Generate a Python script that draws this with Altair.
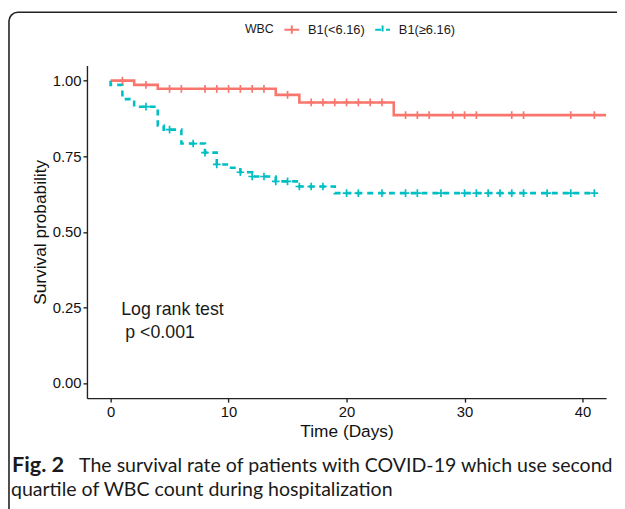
import altair as alt
import pandas as pd

groups = ["B1(<6.16)", "B1(≥6.16)"]
colors = ["#F8766D", "#00BFC4"]

# Kaplan-Meier step points (time, survival) per group
red_times = [0, 2, 4, 14, 16, 24, 42]
red_surv = [1.0, 0.986, 0.973, 0.953, 0.928, 0.886, 0.886]
red_censor = [1, 3, 5, 6, 8, 9, 10, 11, 12, 13, 15, 17, 18, 19, 20, 21, 22, 23,
              25, 26, 27, 29, 30, 31, 34, 35, 39, 41]

cyan_times = [0, 0, 1, 2, 4, 4.5, 6, 8, 9, 10, 11, 12, 14, 16, 19, 41]
cyan_surv = [1.0, 0.986, 0.939, 0.914, 0.852, 0.838, 0.792, 0.762, 0.723, 0.712,
             0.697, 0.683, 0.667, 0.650, 0.628, 0.628]
cyan_censor = [3, 5, 7, 8, 9, 11, 12, 13, 14, 15, 16, 17, 18, 20, 21, 23, 25, 26,
               28, 30, 31, 32, 33, 34, 35, 37, 39, 41]

x_ticks = [0, 10, 20, 30, 40]
y_ticks = [0.0, 0.25, 0.5, 0.75, 1.0]

annot_text = ["Log rank test", "p <0.001"]
annot_x = [0.9, 1.25]
annot_y = [0.24, 0.165]

caption_bold = "Fig. 2"
caption_line1 = "The survival rate of patients with COVID-19 which use second"
caption_line2 = "quartile of WBC count during hospitalization"

FONT = "Liberation Sans"


def surv_at(times, survs, t):
    s = survs[0]
    for tt, ss in zip(times, survs):
        if tt <= t:
            s = ss
    return s


line_rows = []
for g, ts, ss in [(groups[0], red_times, red_surv), (groups[1], cyan_times, cyan_surv)]:
    for i, (t, s) in enumerate(zip(ts, ss)):
        line_rows.append({"group": g, "time": t, "surv": s, "idx": i})
line_df = pd.DataFrame(line_rows)

cens_rows = []
for g, ts, ss, cs in [(groups[0], red_times, red_surv, red_censor),
                      (groups[1], cyan_times, cyan_surv, cyan_censor)]:
    for c in cs:
        cens_rows.append({"group": g, "time": c, "surv": surv_at(ts, ss, c)})
cens_df = pd.DataFrame(cens_rows)

annot_df = pd.DataFrame({"text": annot_text, "time": annot_x, "surv": annot_y})

xscale = alt.Scale(domain=[-2, 42], nice=False, zero=False)
yscale = alt.Scale(domain=[-0.05, 1.05], nice=False, zero=False)
cscale = alt.Scale(domain=groups, range=colors)
dscale = alt.Scale(domain=groups, range=[[1, 0], [6, 5]])

legend = alt.Legend(
    orient="none", legendX=160, legendY=-45, direction="horizontal",
    title="WBC", titleOrient="left", titleFont=FONT, titleFontSize=12.5,
    titleFontWeight="normal", titleColor="#1a1a1a", titlePadding=9,
    labelFont=FONT, labelFontSize=13, labelColor="#1a1a1a", labelOffset=8,
    columnPadding=6, symbolType="M-1,0H1M0,-0.55V0.55", symbolSize=225,
    symbolStrokeWidth=2,
)

xaxis = alt.Axis(values=x_ticks, title="Time (Days)", format="d")
yaxis = alt.Axis(values=y_ticks, title="Survival probability", format=".2f")

lines = alt.Chart(line_df).mark_line(interpolate="step-after", strokeWidth=2.6).encode(
    x=alt.X("time:Q", scale=xscale, axis=xaxis),
    y=alt.Y("surv:Q", scale=yscale, axis=yaxis),
    color=alt.Color("group:N", scale=cscale, legend=legend),
    strokeDash=alt.StrokeDash("group:N", scale=dscale, legend=legend),
    order=alt.Order("idx:Q"),
)

censors = alt.Chart(cens_df).mark_point(
    shape="M-1,0H1M0,-1V1", size=60, filled=False, strokeWidth=1.7, opacity=1
).encode(
    x=alt.X("time:Q", scale=xscale),
    y=alt.Y("surv:Q", scale=yscale),
    color=alt.Color("group:N", scale=cscale, legend=None),
)

annot = alt.Chart(annot_df).mark_text(
    align="left", baseline="middle", font=FONT, fontSize=18, color="#1a1a1a"
).encode(
    x=alt.X("time:Q", scale=xscale),
    y=alt.Y("surv:Q", scale=yscale),
    text="text:N",
)

frame = alt.Chart(pd.DataFrame({"a": [0]})).mark_rect(
    fill=None, stroke="#222222", strokeWidth=1.6, cornerRadius=9
).encode(
    x=alt.value(-79), x2=alt.value(800), y=alt.value(-54), y2=alt.value(700)
)

cap_df = pd.DataFrame({
    "text": [caption_bold, caption_line1, caption_line2],
    "px": [-76, -8, -77],
    "py": [412, 412, 436],
})

cap_bold = alt.Chart(cap_df.iloc[[0]]).mark_text(
    align="left", baseline="alphabetic", font="Lato", fontSize=22,
    fontWeight="bold", color="#1a1a1a"
).encode(x=alt.X("px:Q", scale=None), y=alt.Y("py:Q", scale=None), text="text:N")

cap_norm = alt.Chart(cap_df.iloc[[1, 2]]).mark_text(
    align="left", baseline="alphabetic", font="Lato", fontSize=19.8,
    fontWeight="normal", color="#1a1a1a"
).encode(x=alt.X("px:Q", scale=None), y=alt.Y("py:Q", scale=None), text="text:N")

chart = alt.layer(frame, lines, censors, annot, cap_bold, cap_norm).resolve_scale(
    x="shared", y="shared"
).properties(
    width=526, height=337,
    autosize=alt.AutoSizeParams(type="none"),
    padding={"left": 80, "top": 55, "right": 11, "bottom": 109},
).configure_view(stroke=None).configure_axis(
    grid=False, domainColor="#222222", domainWidth=1.4, tickColor="#222222",
    tickWidth=1.4, tickSize=4, labelFont=FONT, labelFontSize=15,
    labelColor="#111111", titleFont=FONT, titleFontSize=17.5,
    titleFontWeight="normal", titleColor="#111111",
).configure_axisY(labelPadding=2, titlePadding=3).configure_axisX(
    labelPadding=3, titlePadding=3
)

chart.save("out.html", embed_options={"renderer": "svg", "actions": False})
